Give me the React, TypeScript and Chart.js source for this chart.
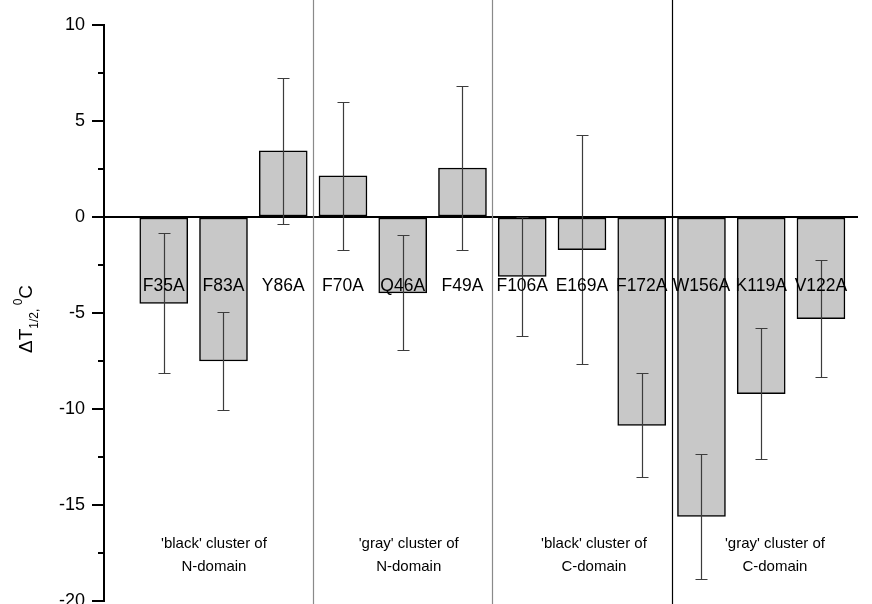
import React, { useEffect, useRef } from 'react';
import { Chart, registerables } from 'chart.js';

Chart.register(...registerables);

// Alanine mutants, in plotting order
const mutants = ['F35A', 'F83A', 'Y86A', 'F70A', 'Q46A', 'F49A', 'F106A', 'E169A', 'F172A', 'W156A', 'K119A', 'V122A'];
// Change of the half-transition temperature, °C
const deltaT = [-4.5, -7.5, 3.45, 2.15, -3.95, 2.55, -3.1, -1.7, -10.85, -15.6, -9.2, -5.3];
// Symmetric error for each mutant, °C
const deltaTErr = [3.65, 2.55, 3.8, 3.85, 3.0, 4.25, 3.1, 5.95, 2.7, 3.25, 3.4, 3.05];
// Cluster captions (two lines each)
const clusterTop = ["'black' cluster of", "'gray' cluster of", "'black' cluster of", "'gray' cluster of"];
const clusterBottom = ['N-domain', 'N-domain', 'C-domain', 'C-domain'];
// Y axis range and steps
const yMin = -20;
const yMax = 10;
const yMajorStep = 5;
const yMinorStep = 2.5;

const FONT = '"Liberation Sans", Arial, Helvetica, sans-serif';

// Layout constants for the annotation layer
const CLUSTER_CENTERS = [1.84, 5.1, 8.2, 11.23];
const CLUSTER_SEPARATORS = [
  { x: 3.5, color: '#8a8a8a' },
  { x: 6.5, color: '#8a8a8a' },
  { x: 9.5, color: '#000000' },
];

const annotations = {
  id: 'annotations',
  beforeDatasetsDraw(chart: any) {
    const { ctx, scales } = chart;
    const xs = scales.x;
    ctx.save();
    // vertical separators between clusters, full height
    ctx.lineWidth = 1.2;
    CLUSTER_SEPARATORS.forEach((s) => {
      const px = Math.round(xs.getPixelForValue(s.x)) + 0.5;
      ctx.strokeStyle = s.color;
      ctx.beginPath();
      ctx.moveTo(px, 0);
      ctx.lineTo(px, chart.height);
      ctx.stroke();
    });
    ctx.restore();
  },
  afterDatasetsDraw(chart: any) {
    const { ctx, scales, chartArea } = chart;
    const xs = scales.x;
    const ys = scales.y;
    const meta = chart.getDatasetMeta(0);
    ctx.save();

    // error bars
    ctx.strokeStyle = '#3c3c3c';
    ctx.lineWidth = 1.2;
    meta.data.forEach((bar: any, i: number) => {
      const cx = Math.round(bar.x) + 0.5;
      const top = Math.round(ys.getPixelForValue(deltaT[i] + deltaTErr[i])) + 0.5;
      const bot = Math.round(ys.getPixelForValue(deltaT[i] - deltaTErr[i])) + 0.5;
      ctx.beginPath();
      ctx.moveTo(cx, top);
      ctx.lineTo(cx, bot);
      ctx.moveTo(cx - 6, top);
      ctx.lineTo(cx + 6, top);
      ctx.moveTo(cx - 6, bot);
      ctx.lineTo(cx + 6, bot);
      ctx.stroke();
    });

    // mutant names
    ctx.fillStyle = '#000';
    ctx.font = `17.5px ${FONT}`;
    ctx.textAlign = 'center';
    ctx.textBaseline = 'middle';
    const labelY = ys.getPixelForValue(-3.6);
    meta.data.forEach((bar: any, i: number) => {
      ctx.fillText(mutants[i], bar.x, labelY);
    });

    // cluster captions
    ctx.font = `15px ${FONT}`;
    CLUSTER_CENTERS.forEach((c, i) => {
      const px = xs.getPixelForValue(c);
      ctx.fillText(clusterTop[i], px, ys.getPixelForValue(-17.0));
      ctx.fillText(clusterBottom[i], px, ys.getPixelForValue(-18.2));
    });

    // minor ticks on the y axis
    ctx.strokeStyle = '#000';
    ctx.lineWidth = 2;
    for (let v = yMin + yMinorStep; v < yMax; v += yMajorStep) {
      const py = Math.round(ys.getPixelForValue(v));
      ctx.beginPath();
      ctx.moveTo(chartArea.left - 6, py);
      ctx.lineTo(chartArea.left, py);
      ctx.stroke();
    }

    // y axis title: ΔT1/2, 0C with sub/superscripts
    const parts = [
      { t: 'ΔT', size: 19, dy: 0 },
      { t: '1/2', size: 12, dy: 6 },
      { t: ',', size: 12, dy: 6 },
      { t: ' ', size: 12, dy: 0 },
      { t: '0', size: 12, dy: -10 },
      { t: 'C', size: 19, dy: 0 },
    ];
    let total = 0;
    const widths = parts.map((p) => {
      ctx.font = `${p.size}px ${FONT}`;
      const w = ctx.measureText(p.t).width;
      total += w;
      return w;
    });
    ctx.translate(32, (chartArea.top + chartArea.bottom) / 2 + 6);
    ctx.rotate(-Math.PI / 2);
    ctx.textAlign = 'left';
    ctx.textBaseline = 'alphabetic';
    let x = -total / 2;
    parts.forEach((p, i) => {
      ctx.font = `${p.size}px ${FONT}`;
      ctx.fillText(p.t, x, p.dy);
      x += widths[i];
    });

    ctx.restore();
  },
};

export default function App() {
  const canvasRef = useRef<HTMLCanvasElement | null>(null);

  useEffect(() => {
    const canvas = canvasRef.current;
    if (!canvas) return;
    const chart = new Chart(canvas, {
      type: 'bar',
      data: {
        datasets: [
          {
            data: deltaT.map((v, i) => ({ x: i + 1, y: v })),
            backgroundColor: '#c8c8c8',
            borderColor: '#000',
            borderWidth: 1.5,
            borderSkipped: false,
            barThickness: 48,
          },
        ],
      },
      options: {
        animation: false,
        responsive: false,
        devicePixelRatio: 1,
        layout: { padding: { left: 0, right: 14, top: 25, bottom: 3 } },
        plugins: {
          legend: { display: false },
          tooltip: { enabled: false },
        },
        scales: {
          x: {
            type: 'linear',
            min: 0,
            max: 12.62,
            offset: false,
            grid: { offset: false },
            display: false,
          },
          y: {
            min: yMin,
            max: yMax,
            ticks: {
              stepSize: yMajorStep,
              color: '#000',
              padding: 7,
              font: { family: FONT, size: 18 },
            },
            border: { display: true, color: '#000', width: 2 },
            grid: {
              color: (c: any) => (c.tick && c.tick.value === 0 ? '#000' : 'rgba(0,0,0,0)'),
              lineWidth: 2,
              tickColor: '#000',
              tickWidth: 2,
              tickLength: 12,
            },
            afterFit: (scale: any) => {
              scale.width = 104;
              scale.paddingTop = 0;
              scale.paddingBottom = 0;
            },
          },
        },
      },
      plugins: [annotations],
    });
    return () => chart.destroy();
  }, []);

  return (
    <div style={{ position: 'fixed', left: 0, top: 0, width: 872, height: 604, background: '#fff' }}>
      <canvas ref={canvasRef} width={872} height={604} style={{ display: 'block' }} />
    </div>
  );
}
